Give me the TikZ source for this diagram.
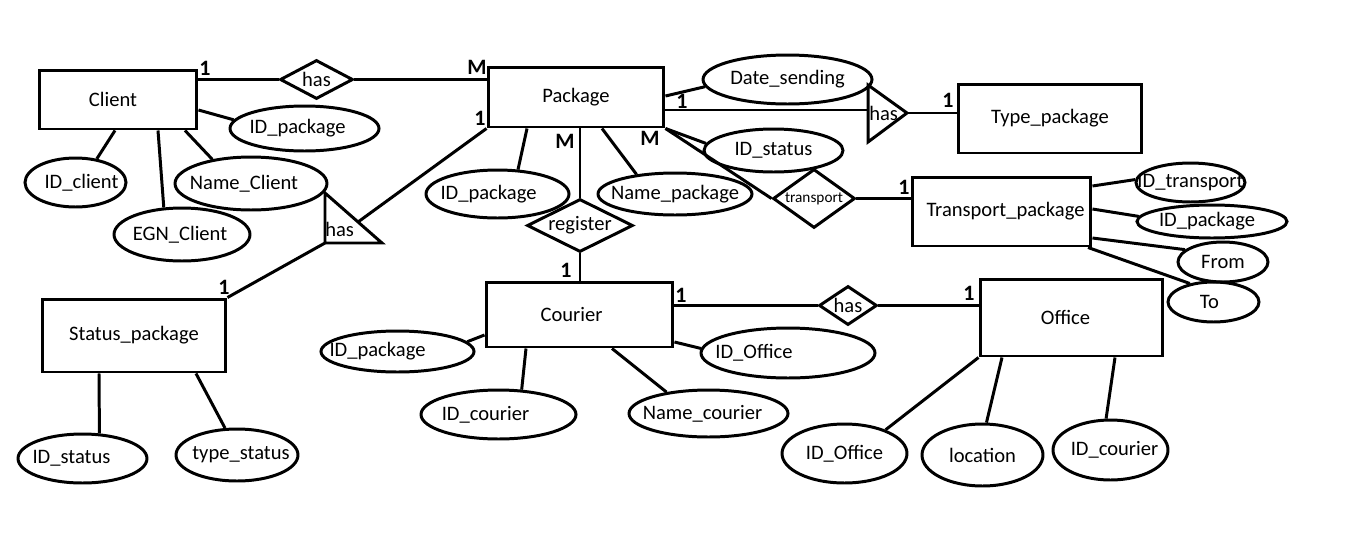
\documentclass[tikz,border=0pt]{standalone}
\usepackage{fontspec}
\setmainfont{Carlito}
\usepackage{tikz}
\usetikzlibrary{shapes.geometric,calc}
% text that may stick out of its shape, optionally shifted sideways
\newcommand{\attxt}[2][0pt]{\makebox[0pt]{\hspace*{#1}\hspace*{#1}#2}}

\begin{document}
\begin{tikzpicture}[x=0.02cm,y=-0.02cm,
  every node/.style={font=\fontsize{11.7}{14}\selectfont},
  entity/.style={draw, rectangle, line width=1.7pt, inner sep=0pt},
  attr/.style={draw, ellipse, line width=1.7pt, inner sep=0pt},
  rel/.style={draw, diamond, line width=1.7pt, inner sep=0pt},
  card/.style={font=\bfseries\fontsize{12.5}{14}\selectfont, inner sep=0pt},
  link/.style={line width=1.7pt}]
\useasboundingbox (0,0) rectangle (1360,555);
%
% entities
\node[entity, minimum width=3.16cm, minimum height=1.18cm] (client) at (118,99.5) {\attxt[-0.1cm]{Client}};
\node[entity, minimum width=3.52cm, minimum height=1.20cm] (package) at (576,97) {\attxt{Package}};
\node[entity, minimum width=3.68cm, minimum height=1.38cm] (typepkg) at (1050,118.5) {\attxt{Type\_package}};
\node[entity, minimum width=3.58cm, minimum height=1.38cm] (tpack) at (1001.5,211.5) {\attxt[0.08cm]{Transport\_package}};
\node[entity, minimum width=3.68cm, minimum height=1.46cm] (status) at (134,335.5) {\attxt{Status\_package}};
\node[entity, minimum width=3.74cm, minimum height=1.30cm] (courier) at (579.5,314.5) {\attxt[-0.16cm]{Courier}};
\node[entity, minimum width=3.66cm, minimum height=1.54cm] (office) at (1071.5,317.5) {\attxt[-0.12cm]{Office}};
%
% relationships
\node[rel, minimum width=1.46cm, minimum height=0.78cm] (hasA) at (316.5,79.5) {\attxt{has}};
\node[rel, minimum width=2.12cm, minimum height=1.06cm] (reg) at (580,225.5) {\attxt{register}};
\node[rel, minimum width=1.64cm, minimum height=1.18cm, font=\fontsize{8.7}{10}\selectfont] (trans) at (814,198.5) {\attxt{transport}};
\node[rel, minimum width=1.16cm, minimum height=0.78cm] (hasC) at (848,305.5) {\attxt{has}};
%
\draw[link] (325,193) -- (325,243) coordinate (hasBsw) -- (382,243) -- cycle;
\node[anchor=west, inner sep=0pt] (hasBtxt) at (325,229) {has};
\coordinate (hasBin) at (358,222);
\draw[link] (868,85) -- (868,142) -- (907,113) coordinate (hasDtip) -- cycle;
\node[anchor=west, inner sep=0pt] (hasDtxt) at (869,113) {has};
\coordinate (hasDin) at (868,110);
%
% attributes
\node[attr, minimum width=2.98cm, minimum height=0.90cm] (cidpkg) at (304.5,128.5) {\attxt[-0.14cm]{ID\_package}};
\node[attr, minimum width=2.02cm, minimum height=0.98cm] (idclient) at (75.5,182.5) {\attxt[0.12cm]{ID\_client}};
\node[attr, minimum width=2.72cm, minimum height=1.06cm] (egn) at (182,234.5) {\attxt[-0.04cm]{EGN\_Client}};
\node[attr, minimum width=3.04cm, minimum height=1.06cm] (nameclient) at (251,183.5) {\attxt[-0.14cm]{Name\_Client}};
\node[attr, minimum width=2.86cm, minimum height=0.96cm] (pidpkg) at (497.5,194) {\attxt[-0.18cm]{ID\_package}};
\node[attr, minimum width=3.08cm, minimum height=0.84cm] (pname) at (675,194) {\attxt{Name\_package}};
\node[attr, minimum width=3.38cm, minimum height=0.98cm] (pdate) at (787.5,79.5) {\attxt{Date\_sending}};
\node[attr, minimum width=2.78cm, minimum height=0.86cm] (pstatus) at (773.5,150.5) {\attxt{ID\_status}};
\node[attr, minimum width=2.18cm, minimum height=0.78cm] (tidtr) at (1190.5,182.5) {\attxt{ID\_transport}};
\node[attr, minimum width=3.00cm, minimum height=0.66cm] (tidpkg) at (1212,221.5) {\attxt[-0.1cm]{ID\_package}};
\node[attr, minimum width=1.80cm, minimum height=0.80cm] (tfrom) at (1223,262) {\attxt{From}};
\node[attr, minimum width=1.82cm, minimum height=0.80cm] (tto) at (1213.5,302) {\attxt[-0.08cm]{To}};
\node[attr, minimum width=2.58cm, minimum height=0.98cm] (sid) at (82.5,458.5) {\attxt[-0.22cm]{ID\_status}};
\node[attr, minimum width=2.44cm, minimum height=1.04cm] (stype) at (237,455) {\attxt[0.08cm]{type\_status}};
\node[attr, minimum width=3.06cm, minimum height=0.82cm] (cidpk) at (397.5,351.5) {\attxt[-0.4cm]{ID\_package}};
\node[attr, minimum width=3.10cm, minimum height=0.98cm] (cidcour) at (498.5,414.5) {\attxt[-0.26cm]{ID\_courier}};
\node[attr, minimum width=3.18cm, minimum height=0.94cm] (cname) at (708.5,413.5) {\attxt[-0.12cm]{Name\_courier}};
\node[attr, minimum width=3.48cm, minimum height=1.00cm] (cidoff) at (788,353) {\attxt[-0.68cm]{ID\_Office}};
\node[attr, minimum width=2.50cm, minimum height=1.18cm] (oidoff) at (844.5,453.5) {\attxt{ID\_Office}};
\node[attr, minimum width=2.42cm, minimum height=1.24cm] (oloc) at (982.5,455) {\attxt{location}};
\node[attr, minimum width=2.30cm, minimum height=1.20cm] (oidcour) at (1110.5,450) {\attxt[0.08cm]{ID\_courier}};
%
% relationship lines
\draw[link] (hasA.west) -- (hasA.west -| client.east);
\draw[link] (hasA.east) -- (hasA.east -| package.west);
\draw[link] (package.south west) -- (hasBin);
\draw[link] (hasBsw) -- (status.north east);
\draw[link] (package.east |- hasDin) -- (hasDin);
\draw[link] (hasDtip) -- (hasDtip -| typepkg.west);
\draw[link] (reg.north) -- (reg.north |- package.south);
\draw[link] (reg.south) -- (reg.south |- courier.north);
\draw[link] (package.south east) -- (trans.west);
\draw[link] (trans.east) -- (trans.east -| tpack.west);
\draw[link] (hasC.west) -- (hasC.west -| courier.east);
\draw[link] (hasC.east) -- (hasC.east -| office.west);
%
% attribute lines
\draw[link] (client.east |- 0,110) -- (cidpkg.173);
\draw[link] (115,0 |- client.south) -- (idclient.48);
\draw[link] (158,0 |- client.south) -- (egn.124);
\draw[link] (185,0 |- client.south) -- (nameclient.148);
\draw[link] (527,0 |- package.south) -- (pidpkg.50);
\draw[link] (602,0 |- package.south) -- (pname.153);
\draw[link] (package.east |- 0,96) -- (pdate.185);
\draw[link] (package.south east) -- (pstatus.174);
\draw[link] (tpack.east |- 0,186) -- (tidtr.177);
\draw[link] (tpack.east |- 0,209) -- (tidpkg.176);
\draw[link] (tpack.east |- 0,238) -- (tfrom.162);
\draw[link] (1088,0 |- tpack.south) -- (tto.142);
\draw[link] (99,0 |- status.south) -- (sid.56);
\draw[link] (196,0 |- status.south) -- (stype.114);
\draw[link] (courier.west |- 0,335) -- (cidpk.8);
\draw[link] (526,0 |- courier.south) -- (cidcour.47);
\draw[link] (612,0 |- courier.south) -- (cname.153);
\draw[link] (courier.east |- 0,342) -- (cidoff.177);
\draw[link] (office.south west) -- (oidoff.30);
\draw[link] (1002,0 |- office.south) -- (oloc.83);
\draw[link] (1115,0 |- office.south) -- (oidcour.98);
%
% cardinalities
\node[card] (c1) at (205,68) {1};
\node[card] (c2) at (477,67) {M};
\node[card] (c3) at (480,118) {1};
\node[card] (c4) at (565,141) {M};
\node[card] (c5) at (650,138) {M};
\node[card] (c6) at (682,101) {1};
\node[card] (c7) at (948,100) {1};
\node[card] (c8) at (904,187) {1};
\node[card] (c9) at (566,270) {1};
\node[card] (c10) at (681,295) {1};
\node[card] (c11) at (969,293) {1};
\node[card] (c12) at (224,287) {1};
\end{tikzpicture}
\end{document}
